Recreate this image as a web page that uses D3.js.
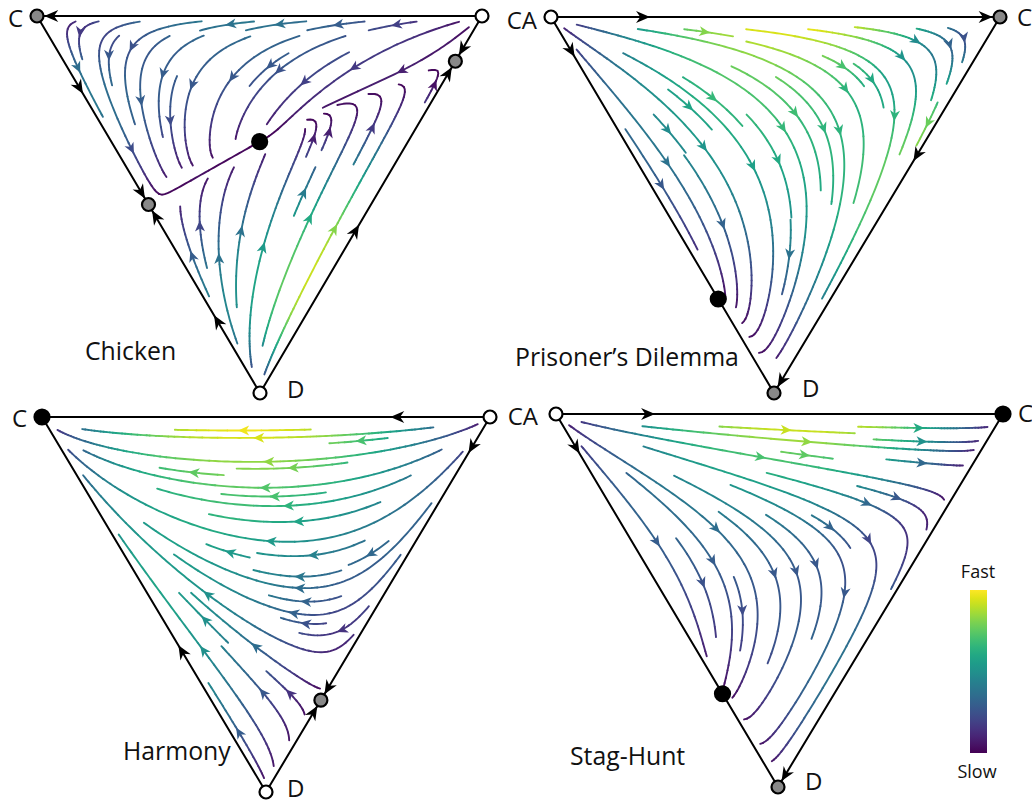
<!DOCTYPE html>
<html>
<head>
<meta charset="utf-8">
<script src="https://cdn.jsdelivr.net/npm/d3@7"></script>
<style>
  body { margin: 0; background: #fff; }
  svg { display: block; }
  text { font-family: "Open Sans", "Noto Sans", sans-serif; fill: #111; }
</style>
</head>
<body>
<svg id="chart" width="1032" height="804"></svg>
<script>
// ---- data ---------------------------------------------------------------
// Strategy order used by every payoff matrix and share vector: C, CA, D
const strategies = ["C", "CA", "D"];
const gameTitles = ["Chicken", "Prisoner’s Dilemma", "Harmony", "Stag-Hunt"];

// Payoff matrices: row = focal strategy, column = opponent
const payoffChicken  = [[3, 2, 1], [2.5, 1.76, 1.74], [4, 2, 0]];
const payoffPD       = [[3, 3, 0], [0, 1, 1.5], [6, 2.5, 1]];
const payoffHarmony  = [[3, 3, 2.5], [0, 1, 1.5], [1.5, 2.5, 1]];
const payoffStagHunt = [[3.4, 3, -1], [0, 1, 1.5], [3, 2.5, 1]];

// Rest points: shares of (C, CA, D) and stability
const restChicken = [
  [1, 0, 0, "saddle"], [0, 1, 0, "unstable"], [0, 0, 1, "unstable"],
  [0.5, 0, 0.5, "saddle"], [0, 0.88, 0.12, "saddle"], [1/3, 1/3, 1/3, "stable"]
];
const restPD = [
  [0, 1, 0, "unstable"], [1, 0, 0, "saddle"], [0, 0, 1, "saddle"], [0, 0.25, 0.75, "stable"]
];
const restHarmony = [
  [1, 0, 0, "stable"], [0, 1, 0, "unstable"], [0, 0, 1, "unstable"], [0, 0.245, 0.755, "saddle"]
];
const restStagHunt = [
  [0, 1, 0, "unstable"], [1, 0, 0, "stable"], [0, 0, 1, "saddle"], [0, 0.25, 0.75, "stable"]
];

// Arrows on the simplex edges: [from, to, share of "to" at the arrow]
const edgeArrowsChicken = [
  ["C", "CA", 0.032], ["C", "D", 0.19], ["C", "D", 0.468], ["C", "D", 0.532], ["C", "D", 0.81],
  ["CA", "D", 0.088], ["CA", "D", 0.152], ["CA", "D", 0.57]
];
const edgeArrowsPD = [
  ["CA", "C", 0.205], ["CA", "C", 0.968], ["CA", "D", 0.09], ["C", "D", 0.367], ["C", "D", 0.968]
];
const edgeArrowsHarmony = [
  ["CA", "C", 0.207], ["CA", "D", 0.08], ["CA", "D", 0.723], ["CA", "D", 0.787], ["C", "D", 0.625]
];
const edgeArrowsStagHunt = [
  ["CA", "C", 0.206], ["CA", "D", 0.09], ["C", "D", 0.968]
];

const colorbarLabels = ["Fast", "Slow"];

// ---- layout -------------------------------------------------------------
const panels = [
  { title: gameTitles[0], payoff: payoffChicken, rest: restChicken, edgeArrows: edgeArrowsChicken,
    corners: { C: [37, 16], CA: [482, 16], D: [260, 393] },
    titlePos: [85, 360],
    labels: [["C", 8, 27, "start"], ["D", 287, 398, "start"]] },
  { title: gameTitles[1], payoff: payoffPD, rest: restPD, edgeArrows: edgeArrowsPD,
    corners: { CA: [551, 17], C: [1000, 17], D: [774, 393] },
    titlePos: [515, 366],
    labels: [["CA", 537, 29, "end"], ["C", 1017, 26, "start"], ["D", 802, 397, "start"]] },
  { title: gameTitles[2], payoff: payoffHarmony, rest: restHarmony, edgeArrows: edgeArrowsHarmony,
    corners: { C: [42, 417], CA: [490, 417], D: [266, 792] },
    titlePos: [123, 760],
    labels: [["C", 12, 427, "start"], ["D", 287, 797, "start"]] },
  { title: gameTitles[3], payoff: payoffStagHunt, rest: restStagHunt, edgeArrows: edgeArrowsStagHunt,
    corners: { CA: [556, 414], C: [1003, 414], D: [778, 787] },
    titlePos: [570, 765],
    labels: [["CA", 538, 425, "end"], ["C", 1018, 422, "start"], ["D", 805, 790, "start"]] }
];

const MASK_N = 30;         // streamline density grid
const EDGE_MARGIN = 0.014; // streamlines stop this close to an edge (share units)

const svg = d3.select("#chart");

// ---- replicator dynamics -------------------------------------------------
function replicator(A, x) {
  const f = A.map(r => r[0] * x[0] + r[1] * x[1] + r[2] * x[2]);
  const avg = x[0] * f[0] + x[1] * f[1] + x[2] * f[2];
  return x.map((xi, i) => xi * (f[i] - avg));
}

function geometry(corners) {
  const P = strategies.map(s => corners[s]);
  const [[x1, y1], [x2, y2], [x3, y3]] = P;
  const det = (y2 - y3) * (x1 - x3) + (x3 - x2) * (y1 - y3);
  const toShares = (px, py) => {
    const a = ((y2 - y3) * (px - x3) + (x3 - x2) * (py - y3)) / det;
    const b = ((y3 - y1) * (px - x3) + (x1 - x3) * (py - y3)) / det;
    return [a, b, 1 - a - b];
  };
  const toPx = s => [s[0] * x1 + s[1] * x2 + s[2] * x3, s[0] * y1 + s[1] * y2 + s[2] * y3];
  const dirPx = d => [d[0] * x1 + d[1] * x2 + d[2] * x3, d[0] * y1 + d[1] * y2 + d[2] * y3];
  return { P, toShares, toPx, dirPx };
}

// spiral seed order over the mask, outer ring first
function spiralSeeds(nx, ny) {
  const out = [];
  let x = 0, y = 0, dir = "right";
  let xf = 0, yf = 1, xl = nx - 1, yl = ny - 1;
  for (let k = 0; k < nx * ny; k++) {
    out.push([x, y]);
    if (dir === "right") { x++; if (x >= xl) { xl--; dir = "down"; } }
    else if (dir === "down") { y++; if (y >= yl) { yl--; dir = "left"; } }
    else if (dir === "left") { x--; if (x <= xf) { xf++; dir = "up"; } }
    else { y--; if (y <= yf) { yf++; dir = "right"; } }
  }
  return out;
}

function computeStreamlines(geom, A) {
  const xs = geom.P.map(p => p[0]), ys = geom.P.map(p => p[1]);
  const x0 = d3.min(xs), x1 = d3.max(xs), y0 = d3.min(ys), y1 = d3.max(ys);
  const N = MASK_N, cw = (x1 - x0) / (N - 1), ch = (y1 - y0) / (N - 1);

  const velPx = (px, py) => {
    const s = geom.toShares(px, py);
    if (s[0] < EDGE_MARGIN || s[1] < EDGE_MARGIN || s[2] < EDGE_MARGIN) return null;
    return geom.dirPx(replicator(A, s));
  };

  let vmax = 0;
  for (let i = 0; i <= 100; i++) for (let j = 0; j <= 100; j++) {
    const v = velPx(x0 + (x1 - x0) * i / 100, y0 + (y1 - y0) * j / 100);
    if (v) vmax = Math.max(vmax, Math.hypot(v[0], v[1]));
  }

  const dirAt = (mx, my) => {
    const v = velPx(x0 + mx * cw, y0 + my * ch);
    if (!v) return null;
    if (Math.hypot(v[0], v[1]) < vmax * 1e-3) return null;
    const u = v[0] / cw, w = v[1] / ch, n = Math.hypot(u, w);
    return [u / n, w / n];
  };

  const mask = new Uint8Array(N * N);
  const h = 0.2, maxLen = 4 * (N - 1), minLen = 0.1 * (N - 1);
  const lines = [];

  for (const [sx, sy] of spiralSeeds(N, N)) {
    if (mask[sy * N + sx]) continue;
    if (!dirAt(sx, sy)) continue;
    const cells = [[sx, sy]];
    mask[sy * N + sx] = 1;
    const run = sign => {
      let x = sx, y = sy, cx = sx, cy = sy, len = 0, prev = null;
      const pts = [];
      while (len < maxLen) {
        const k1 = dirAt(x, y);
        if (!k1) break;
        if (prev && k1[0] * prev[0] + k1[1] * prev[1] < 0) break;
        const k2 = dirAt(x + 0.5 * h * sign * k1[0], y + 0.5 * h * sign * k1[1]);
        if (!k2) break;
        const nx = x + h * sign * k2[0], ny = y + h * sign * k2[1];
        if (nx < 0 || ny < 0 || nx > N - 1 || ny > N - 1) break;
        if (!dirAt(nx, ny)) break;
        const ix = Math.round(nx), iy = Math.round(ny);
        if (ix !== cx || iy !== cy) {
          if (mask[iy * N + ix]) break;
          mask[iy * N + ix] = 1; cells.push([ix, iy]); cx = ix; cy = iy;
        }
        x = nx; y = ny; len += h; prev = k1;
        pts.push([x, y]);
      }
      return { pts, len };
    };
    const back = run(-1), fwd = run(1);
    if (back.len + fwd.len < minLen) {
      cells.forEach(([cx, cy]) => { mask[cy * N + cx] = 0; });
      continue;
    }
    const pts = back.pts.reverse().concat([[sx, sy]], fwd.pts)
      .map(([mx, my]) => [x0 + mx * cw, y0 + my * ch]);
    lines.push(pts);
  }
  return { lines, velPx, vmax };
}

// notched arrow head with its tip at the origin pointing along +x
function arrowPath(L, W, notch) {
  return `M0,0L${-L},${-W}L${-L * notch},0L${-L},${W}Z`;
}

// ---- draw -----------------------------------------------------------------
const line = d3.line();
const LEVELS = 48;

panels.forEach(panel => {
  const geom = geometry(panel.corners);
  const g = svg.append("g");
  const { lines, velPx, vmax } = computeStreamlines(geom, panel.payoff);
  const speedScale = d3.scaleLinear().domain([0, vmax]).range([0, 1]).clamp(true);

  // triangle edges
  g.append("path")
    .attr("d", line(geom.P) + "Z")
    .attr("fill", "none").attr("stroke", "#000").attr("stroke-width", 2)
    .attr("stroke-linejoin", "round");

  // streamlines, coloured by local speed
  const sg = g.append("g").attr("fill", "none").attr("stroke-width", 1.9)
    .attr("stroke-linecap", "round").attr("stroke-linejoin", "round");
  const ag = g.append("g");
  lines.forEach(pts => {
    const lv = pts.map(p => {
      const v = velPx(p[0], p[1]);
      const s = v ? speedScale(Math.hypot(v[0], v[1])) : 0;
      return Math.round(s * LEVELS);
    });
    let start = 0;
    for (let i = 1; i < pts.length; i++) {
      if (lv[i] !== lv[start] || i === pts.length - 1) {
        sg.append("path")
          .attr("d", line(pts.slice(start, i + 1)))
          .attr("stroke", d3.interpolateViridis(lv[start] / LEVELS));
        start = i;
      }
    }
    // arrow at half the arc length
    const cum = [0];
    for (let i = 1; i < pts.length; i++)
      cum.push(cum[i - 1] + Math.hypot(pts[i][0] - pts[i - 1][0], pts[i][1] - pts[i - 1][1]));
    const half = cum[cum.length - 1] / 2;
    let n = d3.bisectLeft(cum, half);
    n = Math.min(Math.max(n, 0), pts.length - 2);
    const a = pts[n], b = pts[n + 1];
    const tip = [(a[0] + b[0]) / 2, (a[1] + b[1]) / 2];
    const ang = Math.atan2(b[1] - a[1], b[0] - a[0]) * 180 / Math.PI;
    ag.append("path")
      .attr("d", arrowPath(11, 5, 0.72))
      .attr("transform", `translate(${tip[0]},${tip[1]}) rotate(${ang})`)
      .attr("fill", d3.interpolateViridis(lv[n] / LEVELS));
  });

  // flow direction arrows on the edges
  panel.edgeArrows.forEach(([from, to, t]) => {
    const i = strategies.indexOf(from), j = strategies.indexOf(to);
    const s = [0, 0, 0]; s[i] = 1 - t; s[j] = t;
    const pos = geom.toPx(s);
    const pa = geom.P[i], pb = geom.P[j];
    const ex = pb[0] - pa[0], ey = pb[1] - pa[1], el = Math.hypot(ex, ey);
    const v = geom.dirPx(replicator(panel.payoff, s));
    const sign = Math.sign(v[0] * ex + v[1] * ey) || 1;
    const ux = sign * ex / el, uy = sign * ey / el;
    const L = 14;
    const tip = [pos[0] + ux * L / 2, pos[1] + uy * L / 2];
    g.append("path")
      .attr("d", arrowPath(L, 6, 0.7))
      .attr("transform", `translate(${tip[0]},${tip[1]}) rotate(${Math.atan2(uy, ux) * 180 / Math.PI})`)
      .attr("fill", "#000");
  });

  // rest points
  const fills = { stable: "#000", saddle: "#888", unstable: "#fff" };
  g.selectAll("circle.rest").data(panel.rest).join("circle")
    .attr("class", "rest")
    .attr("cx", d => geom.toPx(d)[0]).attr("cy", d => geom.toPx(d)[1])
    .attr("r", d => d[3] === "stable" ? 7.5 : 6.5)
    .attr("fill", d => fills[d[3]]).attr("stroke", "#000").attr("stroke-width", 2.2);

  // corner labels and game title
  g.selectAll("text.corner").data(panel.labels).join("text")
    .attr("class", "corner")
    .attr("x", d => d[1]).attr("y", d => d[2]).attr("text-anchor", d => d[3])
    .attr("font-size", 24).text(d => d[0]);
  g.append("text").attr("x", panel.titlePos[0]).attr("y", panel.titlePos[1])
    .attr("font-size", 24.8).text(panel.title);
});

// colour bar for speed
const defs = svg.append("defs");
const grad = defs.append("linearGradient").attr("id", "speedGrad")
  .attr("x1", 0).attr("y1", 1).attr("x2", 0).attr("y2", 0);
d3.range(0, 1.0001, 0.05).forEach(t => {
  grad.append("stop").attr("offset", t).attr("stop-color", d3.interpolateViridis(t));
});
svg.append("rect").attr("x", 970).attr("y", 590).attr("width", 17).attr("height", 163)
  .attr("fill", "url(#speedGrad)");
svg.append("text").attr("x", 978).attr("y", 578).attr("text-anchor", "middle")
  .attr("font-size", 18).text(colorbarLabels[0]);
svg.append("text").attr("x", 977).attr("y", 778).attr("text-anchor", "middle")
  .attr("font-size", 18).text(colorbarLabels[1]);
</script>
</body>
</html>
